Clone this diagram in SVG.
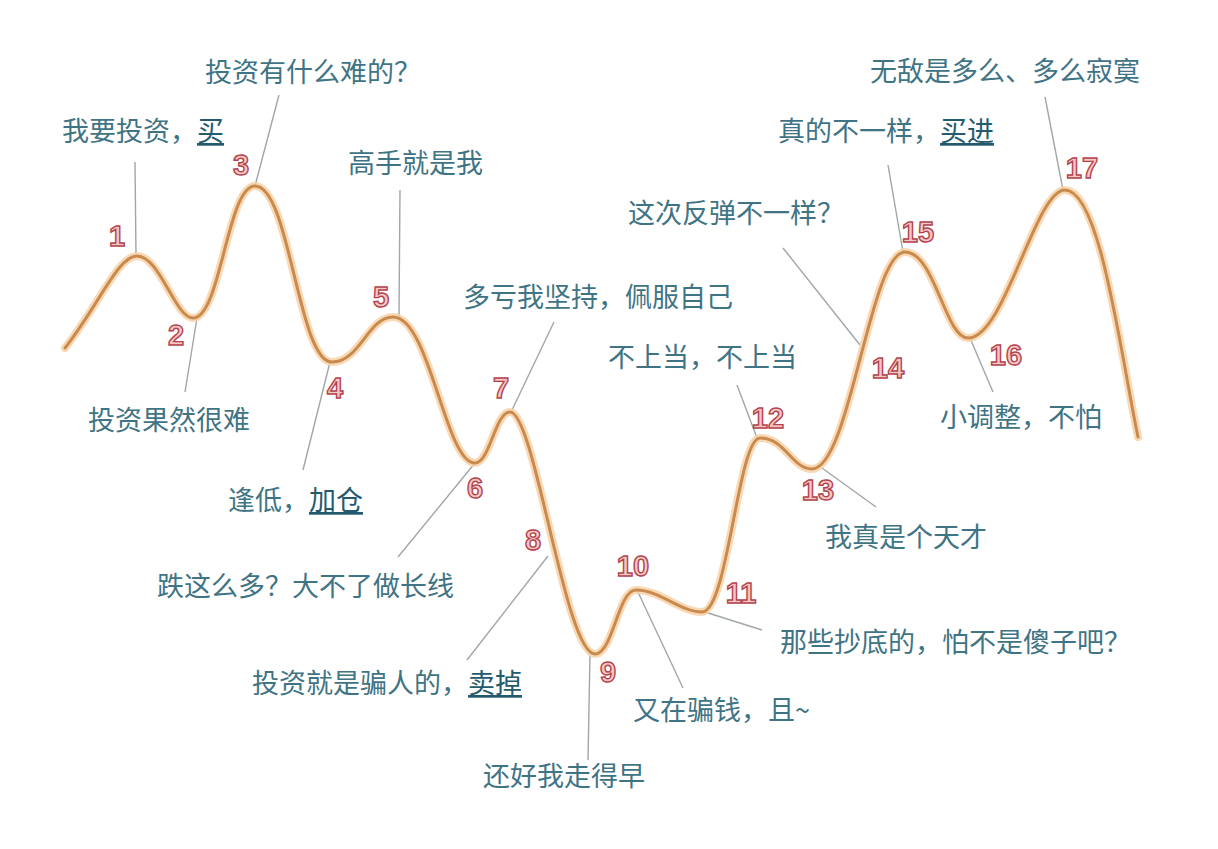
<svg xmlns="http://www.w3.org/2000/svg" width="1218" height="849" viewBox="0 0 1218 849">
<style>
.t{font-family:"Noto Sans CJK SC","Noto Sans",sans-serif;font-size:27px;fill:#3f7484}
.u{text-decoration:underline;fill:#245a6e}
.n{font-family:"Liberation Sans","DejaVu Sans",sans-serif;font-size:29px;font-weight:bold;fill:#f6c8c2;stroke:#b3434f;stroke-width:1.4;text-anchor:middle;dominant-baseline:central}
.l{stroke:#9fa7aa;stroke-width:1.4;fill:none}
.glow{fill:none;stroke:#f8d2a8;stroke-width:8;stroke-linecap:round;opacity:0.85}
.core{fill:none;stroke:#c98a4e;stroke-width:3;stroke-linecap:round}
</style>
<defs>
<path id="wave" d="M65,348 C100,303 118,256 137,256 C160,256 175,318 193,318 C221,318 227,186 255,186 C290,186 298,362 332,362 C360,362 368,317 393,317 C430,317 445,463 475,463 C490,463 495,412 510,412 C535,412 565,654 595,654 C613,654 618,590 636,590 C660,590 680,612 702,612 C728,612 738,438 760,438 C785,438 792,469 812,469 C850,469 870,252 905,252 C935,252 945,338 968,338 C1005,338 1035,190 1065,190 C1100,190 1120,350 1138,437"/>
</defs>
<rect width="1218" height="849" fill="#ffffff"/>
<g id="connectors">
<line class="l" x1="135" y1="162" x2="136" y2="256"/>
<line class="l" x1="197" y1="318" x2="185" y2="392"/>
<line class="l" x1="255" y1="186" x2="279" y2="95"/>
<line class="l" x1="330" y1="362" x2="303" y2="470"/>
<line class="l" x1="400" y1="190" x2="399" y2="317"/>
<line class="l" x1="475" y1="463" x2="398" y2="557"/>
<line class="l" x1="512" y1="410" x2="554" y2="322"/>
<line class="l" x1="548" y1="556" x2="467" y2="660"/>
<line class="l" x1="590" y1="654" x2="588" y2="760"/>
<line class="l" x1="637" y1="590" x2="683" y2="688"/>
<line class="l" x1="705" y1="612" x2="762" y2="630"/>
<line class="l" x1="737" y1="385" x2="757" y2="438"/>
<line class="l" x1="822" y1="468" x2="876" y2="507"/>
<line class="l" x1="860" y1="345" x2="783" y2="248"/>
<line class="l" x1="903" y1="252" x2="888" y2="165"/>
<line class="l" x1="970" y1="338" x2="993" y2="392"/>
<line class="l" x1="1063" y1="190" x2="1045" y2="97"/>
</g>
<g id="curve">
<use href="#wave" class="glow"/>
<use href="#wave" class="core"/>
</g>
<g id="texts">
<text class="t" x="205" y="82">投资有什么难的？</text>
<text class="t" x="62" y="141">我要投资，<tspan class="u">买</tspan></text>
<text class="t" x="348" y="173">高手就是我</text>
<text class="t" x="463" y="307">多亏我坚持，佩服自己</text>
<text class="t" x="608" y="367">不上当，不上当</text>
<text class="t" x="628" y="223">这次反弹不一样？</text>
<text class="t" x="778" y="141">真的不一样，<tspan class="u">买进</tspan></text>
<text class="t" x="870" y="81">无敌是多么、多么寂寞</text>
<text class="t" x="88" y="430">投资果然很难</text>
<text class="t" x="940" y="427">小调整，不怕</text>
<text class="t" x="228" y="510">逢低，<tspan class="u">加仓</tspan></text>
<text class="t" x="825" y="547">我真是个天才</text>
<text class="t" x="157" y="596">跌这么多？大不了做长线</text>
<text class="t" x="780" y="652">那些抄底的，怕不是傻子吧？</text>
<text class="t" x="252" y="693">投资就是骗人的，<tspan class="u">卖掉</tspan></text>
<text class="t" x="633" y="720">又在骗钱，且~</text>
<text class="t" x="483" y="786">还好我走得早</text>
</g>
<g id="numbers">
<text id="n1" class="n" x="117" y="236">1</text>
<text id="n2" class="n" x="176" y="335">2</text>
<text id="n3" class="n" x="241" y="165">3</text>
<text id="n4" class="n" x="335" y="388">4</text>
<text id="n5" class="n" x="381" y="297">5</text>
<text id="n6" class="n" x="475" y="488">6</text>
<text id="n7" class="n" x="501" y="388">7</text>
<text id="n8" class="n" x="533" y="540">8</text>
<text id="n9" class="n" x="608" y="672">9</text>
<text id="n10" class="n" x="633" y="566">10</text>
<text id="n11" class="n" x="741" y="593">11</text>
<text id="n12" class="n" x="768" y="418">12</text>
<text id="n13" class="n" x="818" y="490">13</text>
<text id="n14" class="n" x="888" y="368">14</text>
<text id="n15" class="n" x="918" y="232">15</text>
<text id="n16" class="n" x="1006" y="355">16</text>
<text id="n17" class="n" x="1082" y="168">17</text>
</g>
</svg>
